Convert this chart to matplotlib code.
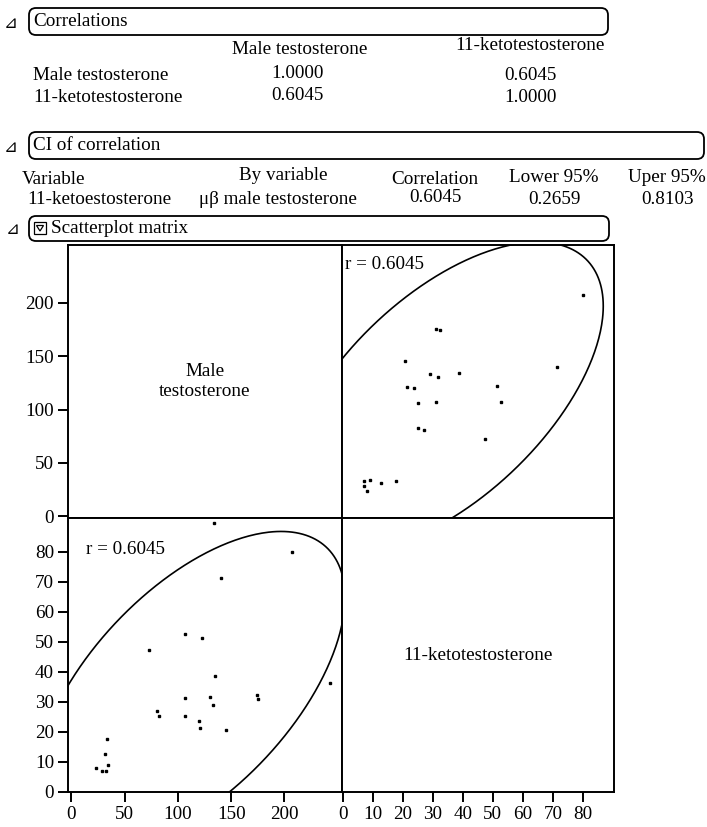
import numpy as np
import matplotlib
matplotlib.use("Agg")
import matplotlib.pyplot as plt
from matplotlib.patches import FancyBboxPatch, Rectangle, Polygon

plt.rcParams['font.family'] = ['Liberation Serif', 'DejaVu Sans']

# Data
male_t = [133.9, 206.9, 140.1, 106.6, 122.3, 72.7, 134.5, 107.2, 130.1, 133.2,
          174.6, 175.2, 80.6, 82.4, 106.3, 119.7, 120.7, 145.1, 243.0, 33.5,
          31.3, 34.5, 23.5, 28.8, 32.9]
keto_t = [89.7, 80.0, 71.3, 52.7, 51.3, 47.4, 38.8, 31.2, 31.8, 29.0,
          32.3, 30.9, 26.9, 25.2, 25.2, 23.8, 21.4, 20.8, 36.3, 17.7,
          12.7, 9.0, 8.0, 7.1, 7.1]
# points that the upper panel does not show
upper_missing = [0, 18]

# 95% density ellipse as drawn (centre, sd, correlation)
ell_center = [111.6, 33.7]
ell_sd = [59.3, 21.7]
ell_rho = 0.587

var_names = ["Male testosterone", "11-ketotestosterone"]
corr_matrix = [[1.0, 0.6045], [0.6045, 1.0]]
ci_headers = ["Variable", "By variable", "Correlation", "Lower 95%", "Uper 95%"]
ci_row = ["11-ketoestosterone", "\u03bc\u03b2 male testosterone", 0.6045, 0.2659, 0.8103]
r_value = 0.6045

male_ticks = [0, 50, 100, 150, 200]
keto_ticks = [0, 10, 20, 30, 40, 50, 60, 70, 80]
male_lim = (-3, 254)
keto_lim = (-0.3, 90.4)

W, H = 707, 827
fig = plt.figure(figsize=(W / 100, H / 100), dpi=100)

FS = 13.8

# overlay in pixel coordinates for the report-style header
ov = fig.add_axes([0, 0, 1, 1])
ov.set_xlim(0, W)
ov.set_ylim(H, 0)
ov.axis('off')


def header_box(x0, y0, x1, y1, title, tri_x, icon=False):
    box = FancyBboxPatch((x0, y0), x1 - x0, y1 - y0,
                         boxstyle="round,pad=0,rounding_size=7",
                         fc='none', ec='black', lw=1.3)
    ov.add_patch(box)
    ov.text(tri_x, (y0 + y1) / 2 + 1, "\u22bf", fontsize=12, ha='left', va='center',
            family=['DejaVu Sans'])
    tx = x0 + 4
    if icon:
        ov.add_patch(Rectangle((x0 + 5, y0 + 6), 12, 12, fc='none', ec='black', lw=0.9))
        ov.add_patch(Polygon([[x0 + 7.5, y0 + 9.5], [x0 + 14.5, y0 + 9.5], [x0 + 11, y0 + 15]],
                             closed=True, fc='none', ec='black', lw=0.9))
        tx = x0 + 22
    ov.text(tx, (y0 + y1) / 2, title, fontsize=FS, ha='left', va='center')


header_box(29, 8, 608, 35, "Correlations", 4)
ov.text(300, 49, var_names[0], fontsize=FS, ha='center', va='center')
ov.text(530, 46, var_names[1], fontsize=FS, ha='center', va='center')
for i, name in enumerate(var_names):
    y = 76 + i * 22
    ov.text(33, y, name, fontsize=FS, ha='left', va='center')
    ov.text(297, y - 3, f"{corr_matrix[i][0]:.4f}", fontsize=FS, ha='center', va='center')
    ov.text(530, y - 1, f"{corr_matrix[i][1]:.4f}", fontsize=FS, ha='center', va='center')

header_box(29, 132, 704, 159, "CI of correlation", 4)
ov.text(22, 180, ci_headers[0], fontsize=FS, ha='left', va='center')
ov.text(27, 199, ci_row[0], fontsize=FS, ha='left', va='center')
ov.text(283, 176, ci_headers[1], fontsize=FS, ha='center', va='center')
ov.text(278, 200, ci_row[1], fontsize=FS, ha='center', va='center')
col_x = [435, 554, 667]
head_y = [180, 177, 177]
val_y = [197, 200, 200]
for cx, hy, vy, h, v in zip(col_x, head_y, val_y, ci_headers[2:], ci_row[2:]):
    ov.text(cx, hy, h, fontsize=FS, ha='center', va='center')
    ov.text(cx, vy, f"{v:.4f}", fontsize=FS, ha='center', va='center')

header_box(29, 216, 609, 241, "Scatterplot matrix", 6, icon=True)

# scatterplot matrix axes
xl, xm, xr = 68 / W, 342 / W, 614 / W
yt, ym, yb = 1 - 245 / H, 1 - 518 / H, 1 - 792 / H
ax_tl = fig.add_axes([xl, ym, xm - xl, yt - ym])
ax_tr = fig.add_axes([xm, ym, xr - xm, yt - ym])
ax_bl = fig.add_axes([xl, yb, xm - xl, ym - yb])
ax_br = fig.add_axes([xm, yb, xr - xm, ym - yb])

male = np.array(male_t)
keto = np.array(keto_t)

# 95% density ellipse
cov = np.array([[ell_sd[0] ** 2, ell_rho * ell_sd[0] * ell_sd[1]],
                [ell_rho * ell_sd[0] * ell_sd[1], ell_sd[1] ** 2]])
t = np.linspace(0, 2 * np.pi, 400)
L = np.linalg.cholesky(cov)
c = np.sqrt(-2 * np.log(0.05))
ell = np.array(ell_center)[:, None] + c * L @ np.vstack([np.cos(t), np.sin(t)])

for ax in (ax_tl, ax_tr, ax_bl, ax_br):
    for s in ax.spines.values():
        s.set_linewidth(1.4)
    ax.tick_params(direction='out', length=7, width=1.4, labelsize=FS, pad=3)
    ax.set_xticks([])
    ax.set_yticks([])

ax_tl.set_xlim(male_lim)
ax_tl.set_ylim(male_lim[0] + 1.5, male_lim[1])
ax_tl.set_yticks(male_ticks)
ax_tl.text(0.5, 0.5, "Male\ntestosterone", transform=ax_tl.transAxes,
           fontsize=FS, ha='center', va='center')

keep = [i for i in range(len(male)) if i not in upper_missing]
ax_tr.plot(keto[keep], male[keep], 's', color='black', ms=1.7, lw=0)
ax_tr.plot(ell[1], ell[0], color='black', lw=1.2)
ax_tr.set_xlim(keto_lim)
ax_tr.set_ylim(male_lim[0] + 1.5, male_lim[1])
ax_tr.text(0.01, 0.93, f"r = {r_value:.4f}", transform=ax_tr.transAxes,
           fontsize=FS, ha='left', va='center')

ax_bl.plot(male, keto, 's', color='black', ms=1.7, lw=0)
ax_bl.plot(ell[0], ell[1], color='black', lw=1.2)
ax_bl.set_xlim(male_lim)
ax_bl.set_ylim(0, 91.3)
ax_bl.set_xticks(male_ticks)
ax_bl.set_yticks(keto_ticks)
ax_bl.text(0.065, 0.885, f"r = {r_value:.4f}", transform=ax_bl.transAxes,
           fontsize=FS, ha='left', va='center')

ax_br.set_xlim(keto_lim)
ax_br.set_ylim(0, 91.3)
ax_br.set_xticks(keto_ticks)
ax_br.text(0.5, 0.5, var_names[1], transform=ax_br.transAxes,
           fontsize=FS, ha='center', va='center')

fig.savefig("out.png", dpi=100)
